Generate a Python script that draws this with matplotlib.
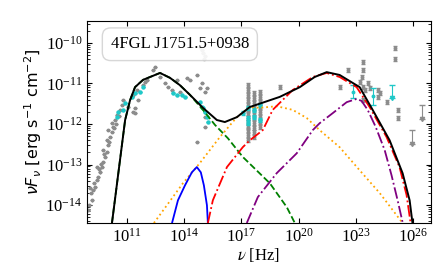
import numpy as np
import matplotlib
matplotlib.use('Agg')
import matplotlib.pyplot as plt
from matplotlib.ticker import FixedLocator, NullLocator, NullFormatter, LogLocator

plt.rcParams['mathtext.fontset'] = 'stix'
plt.rcParams['font.family'] = 'Liberation Serif'

# ---- data (log10 nu [Hz], log10 nuFnu [erg/s/cm2]) ----

# archival radio - optical points (grey)
lx_arch = [8.96, 9.01, 9.17, 9.22, 9.06, 9.32, 9.43, 9.48, 9.59, 9.69, 9.43, 9.74,
           9.85, 9.95, 9.74, 10.01, 9.95, 10.11, 10.21, 10.01, 10.27, 10.21, 10.37,
           10.48, 10.63, 10.74, 11.31, 11.42, 11.05, 11.42, 10.79, 11.58, 11.31,
           11.52, 11.84, 11.94, 12.36, 12.47, 12.99, 13.15, 13.36, 12.73, 12.05,
           14.14, 14.82, 14.93, 14.66, 14.30, 13.62, 15.19, 15.08, 13.77, 15.08,
           15.08, 14.66, 9.11, 9.27, 9.53, 9.64, 9.80, 10.06, 10.32, 10.42, 10.58]
ly_arch = [-14.12, -14.00, -13.88, -13.63, -13.58, -13.56, -13.38, -13.31, -13.19,
           -13.06, -13.06, -12.94, -12.81, -12.69, -12.64, -12.52, -12.40, -12.32,
           -12.20, -12.15, -12.07, -11.98, -11.90, -11.78, -11.65, -11.53, -11.70,
           -11.60, -11.58, -11.73, -11.41, -11.41, -11.28, -11.16, -11.04, -10.96,
           -10.67, -10.59, -10.99, -11.09, -11.16, -10.84, -10.91, -10.86, -11.11,
           -10.99, -10.79, -10.91, -10.91, -11.11, -11.21, -11.21, -12.07, -11.83,
           -12.44, -13.70, -13.45, -13.10, -12.98, -12.75, -12.45, -12.10, -12.00,
           -11.80]

# faint points behind the label box
lx_faint = [14.82, 14.93, 14.98, 15.08, 15.03]
ly_faint = [-10.10, -10.17, -10.25, -10.32, -10.40]

# simultaneous IR/optical/UV (cyan)
lx_cyan = [10.79, 10.90, 10.53, 10.48, 11.26, 11.42, 11.68, 11.84, 13.41, 13.62,
           13.88, 14.04, 14.82, 14.93, 14.98, 15.08, 15.19, 15.24]
ly_cyan = [-11.65, -11.48, -11.70, -11.83, -11.33, -11.23, -11.21, -11.09, -11.23,
           -11.28, -11.28, -11.33, -11.46, -11.58, -11.60, -11.70, -11.83, -11.95]

# X-ray (grey columns + cyan)
lx_xray = [17.34] * 13 + [17.65] * 10 + [17.96] * 8 + [19.01]
ly_xray = [-11.04, -11.16, -11.28, -11.41, -11.53, -11.65, -11.73, -11.85, -11.95,
           -12.07, -12.15, -12.27, -12.40,
           -11.23, -11.36, -11.48, -11.60, -11.73, -11.85, -11.98, -12.10, -12.20,
           -12.32,
           -11.21, -11.33, -11.46, -11.58, -11.70, -11.83, -11.95, -12.07,
           -11.09]
lx_xcyan = [17.07, 17.34, 17.34, 17.34, 17.65, 17.65, 17.96, 17.96]
ly_xcyan = [-11.73, -11.60, -11.85, -11.98, -11.65, -11.83, -11.53, -11.90]

# gamma-ray (grey)
lx_gam = [22.57, 23.36, 23.36, 23.30, 23.20, 23.36, 23.46, 23.36, 23.62, 23.72,
          24.14, 24.25, 24.14, 24.61, 25.03, 25.03, 25.19, 25.19, 22.15]
ly_gam = [-10.67, -10.47, -10.67, -10.84, -10.96, -11.09, -11.16, -11.41, -10.99,
          -11.11, -11.16, -11.23, -11.33, -11.46, -10.12, -10.40, -11.65, -11.85,
          -11.09]
# gamma-ray upper limits (grey)
lx_ul = [26.45, 25.92]
ly_ul = [-11.53, -12.15]
# gamma-ray (cyan)
lx_gcyan = [22.83, 23.90]
ly_gcyan = [-11.20, -11.32]
ly_gcyan_err = [0.16, 0.21]
lx_gcyan_ul = [24.87]
ly_gcyan_ul = [-11.04]

# model components
lx_tot = [10.21, 10.90, 11.16, 11.42, 11.84, 12.73, 13.25, 13.77, 14.30, 14.98,
          15.71, 16.13, 16.76, 17.44, 19.01, 20.06, 20.84, 21.47, 22.15, 23.20,
          23.88, 24.77, 25.45, 25.82, 25.97]
ly_tot = [-14.44, -11.90, -11.41, -11.09, -10.91, -10.74, -10.86, -11.04, -11.28,
          -11.60, -11.90, -11.95, -11.83, -11.58, -11.33, -11.09, -10.84, -10.72,
          -10.79, -11.09, -11.65, -12.40, -13.21, -13.88, -14.44]

lx_syn = [10.21, 10.90, 11.16, 11.42, 11.84, 12.73, 13.25, 13.77, 14.30, 14.98,
          15.61, 16.29, 17.07, 18.49, 19.38, 19.80]
ly_syn = [-14.44, -11.90, -11.41, -11.09, -10.91, -10.74, -10.86, -11.04, -11.28,
          -11.65, -12.02, -12.35, -12.81, -13.46, -14.05, -14.44]

lx_disk = [13.36, 13.67, 14.04, 14.40, 14.66, 14.87, 15.03, 15.19, 15.24]
ly_disk = [-14.44, -13.88, -13.51, -13.19, -13.06, -13.19, -13.51, -14.00, -14.44]

lx_ssc = [12.41, 13.93, 14.82, 15.87, 16.76, 17.44, 17.96, 18.85, 19.69, 20.42,
          21.10, 22.15, 23.20, 24.25, 25.45]
ly_ssc = [-14.44, -13.46, -12.96, -12.32, -11.83, -11.58, -11.60, -11.56, -11.65,
          -11.85, -12.15, -12.57, -13.14, -13.70, -14.44]

lx_ec1 = [15.24, 15.50, 16.24, 17.07, 17.44, 18.12, 18.64, 19.69, 20.74, 21.47,
          22.15, 23.04, 23.72, 24.61, 25.29, 25.66, 25.87]
ly_ec1 = [-14.44, -13.88, -13.06, -12.57, -12.40, -12.15, -11.65, -11.16, -10.84,
          -10.74, -10.84, -11.09, -11.58, -12.32, -13.06, -13.75, -14.44]

lx_ec2 = [17.28, 17.86, 18.85, 19.90, 20.74, 21.10, 21.79, 22.52, 23.04, 23.30,
          23.62, 24.04, 24.51, 24.87, 25.19, 25.45]
ly_ec2 = [-14.44, -13.80, -13.21, -12.72, -12.15, -11.98, -11.73, -11.46, -11.38,
          -11.43, -11.65, -12.07, -12.64, -13.26, -13.88, -14.42]

xticks = [1e11, 1e14, 1e17, 1e20, 1e23, 1e26]
yticks = [1e-14, 1e-13, 1e-12, 1e-11, 1e-10]


def p(v):
    return 10 ** np.asarray(v, dtype=float)


def logerr(lv, d):
    lv = np.asarray(lv, dtype=float)
    d = np.asarray(d, dtype=float) * np.ones_like(lv)
    return [10 ** lv - 10 ** (lv - d), 10 ** (lv + d) - 10 ** lv]


fig = plt.figure(figsize=(4.36, 2.73), dpi=100)
ax = fig.add_axes([0.1995, 0.183, 0.789, 0.740])
ax.set_xscale('log')
ax.set_yscale('log')

grey = '#8c8c8c'
cyan = '#1fc8c8'

# data
ax.errorbar(p(lx_arch), p(ly_arch), xerr=logerr(lx_arch, 0.1), yerr=logerr(ly_arch, 0.03),
            fmt='o', ms=1.8, color=grey, elinewidth=0.8, capsize=0, zorder=2)
ax.errorbar(p(lx_faint), p(ly_faint), xerr=logerr(lx_faint, 0.1),
            fmt='o', ms=1.8, color='#bbbbbb', elinewidth=0.8, capsize=0, zorder=2)
ax.errorbar(p(lx_cyan), p(ly_cyan), xerr=logerr(lx_cyan, 0.08), yerr=logerr(ly_cyan, 0.03),
            fmt='o', ms=2.2, color=cyan, elinewidth=0.8, capsize=0, zorder=3)
ax.errorbar(p(lx_xray), p(ly_xray), yerr=logerr(ly_xray, 0.05),
            fmt='o', ms=1.8, color=grey, elinewidth=0.7, capsize=1.5, zorder=2)
ax.errorbar(p(lx_xcyan), p(ly_xcyan), yerr=logerr(ly_xcyan, 0.05),
            fmt='o', ms=2.2, color=cyan, elinewidth=0.7, capsize=1.5, zorder=3)
ax.errorbar(p(lx_gam), p(ly_gam), yerr=logerr(ly_gam, 0.05),
            fmt='o', ms=1.8, color=grey, elinewidth=0.7, capsize=1.5, zorder=2)
ax.errorbar(p(lx_ul), p(ly_ul), yerr=[p(ly_ul) - p(np.array(ly_ul) - 0.35), np.zeros(2)],
            fmt='none', color=grey, elinewidth=0.8, capsize=2, zorder=2)
ax.plot(p(lx_ul), p(np.array(ly_ul) - 0.35), 'v', ms=3, color=grey, zorder=2)
ax.errorbar(p(lx_gcyan), p(ly_gcyan), yerr=logerr(ly_gcyan, ly_gcyan_err),
            fmt='o', ms=1.8, color=cyan, elinewidth=0.8, capsize=2, zorder=3)
ax.errorbar(p(lx_gcyan_ul), p(ly_gcyan_ul),
            yerr=[p(ly_gcyan_ul) - p(np.array(ly_gcyan_ul) - 0.32), [0]],
            fmt='none', color=cyan, elinewidth=0.8, capsize=2, zorder=3)
ax.plot(p(lx_gcyan_ul), p(np.array(ly_gcyan_ul) - 0.32), 'v', ms=3, color=cyan, zorder=3)

# model
ax.plot(p(lx_ssc), p(ly_ssc), ':', color='orange', lw=1.3, zorder=4)
ax.plot(p(lx_syn), p(ly_syn), '--', color='green', lw=1.3, zorder=4)
ax.plot(p(lx_disk), p(ly_disk), '-', color='blue', lw=1.3, zorder=4)
ax.plot(p(lx_ec2), p(ly_ec2), '-.', color='purple', lw=1.3, zorder=4)
ax.plot(p(lx_ec1), p(ly_ec1), '-.', color='red', lw=1.3, zorder=4)
ax.plot(p(lx_tot), p(ly_tot), '-', color='black', lw=1.4, zorder=5)

ax.set_xlim(10 ** 8.9, 10 ** 26.94)
ax.set_ylim(10 ** -14.44, 10 ** -9.46)

ax.xaxis.set_major_locator(FixedLocator(xticks))
ax.xaxis.set_minor_locator(NullLocator())
ax.xaxis.set_minor_formatter(NullFormatter())
ax.yaxis.set_major_locator(FixedLocator(yticks))
ax.yaxis.set_minor_locator(LogLocator(base=10.0, subs=np.arange(2, 10), numticks=20))
ax.yaxis.set_minor_formatter(NullFormatter())
ax.tick_params(which='both', direction='in', top=True, right=True, labelsize=12)
ax.tick_params(which='major', length=3.5)
ax.tick_params(which='minor', length=2)

ax.set_xlabel(r'$\nu$ [Hz]', fontsize=12, labelpad=0)
ax.set_ylabel(r'$\nu F_{\nu}$ [erg s$^{-1}$ cm$^{-2}$]', fontsize=11.5,
              family='DejaVu Sans', math_fontfamily='dejavusans', labelpad=1)

ax.text(0.27, 0.885, '4FGL J1751.5+0938', transform=ax.transAxes, fontsize=12,
        ha='center', va='center', zorder=6,
        bbox=dict(boxstyle='round,pad=0.5', facecolor='white', edgecolor='#d0d0d0',
                  alpha=0.85))

fig.savefig('out.png', dpi=100)
